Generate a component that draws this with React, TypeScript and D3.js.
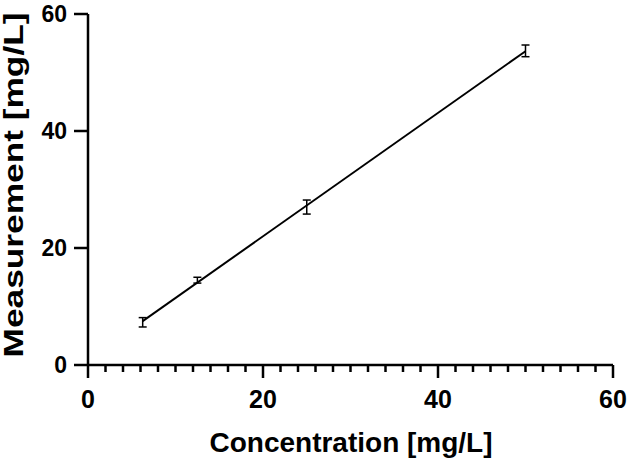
import React, { useEffect, useRef } from 'react';
import * as d3 from 'd3';

// concentrations (mg/L) and measured means with error bar half-widths
const concentrations = [6.25, 12.5, 25, 50];
const measurements = [7.3, 14.5, 27.0, 53.7];
const errors = [0.8, 0.5, 1.2, 1.0];
const xTicks = [0, 20, 40, 60];
const yTicks = [0, 20, 40, 60];

const width = 630;
const height = 461;
const margin = { left: 88, right: 17, top: 14, bottom: 96 };

const drawChart = (node: SVGSVGElement) => {
  const svg = d3.select(node);
  svg.selectAll('*').remove();

  const x = d3.scaleLinear().domain([0, 60]).range([margin.left, width - margin.right]);
  const y = d3.scaleLinear().domain([0, 60]).range([height - margin.bottom, margin.top]);

  const font = 'Arial, "Liberation Sans", sans-serif';

  // x axis with minor ticks every 2
  const minor = d3.range(0, 61, 2).filter(v => v % 20 !== 0);
  const gx = svg.append('g').attr('transform', `translate(0,${y(0)})`);
  gx.append('line')
    .attr('x1', x(0)).attr('x2', x(60))
    .attr('stroke', '#000').attr('stroke-width', 2.5);
  gx.selectAll('.minor').data(minor).enter().append('line')
    .attr('x1', d => x(d)).attr('x2', d => x(d))
    .attr('y1', 0).attr('y2', 7)
    .attr('stroke', '#000').attr('stroke-width', 2.5);
  gx.selectAll('.major').data(xTicks).enter().append('line')
    .attr('x1', d => x(d)).attr('x2', d => x(d))
    .attr('y1', 0).attr('y2', 13)
    .attr('stroke', '#000').attr('stroke-width', 2.5);
  gx.selectAll('text').data(xTicks).enter().append('text')
    .attr('x', d => x(d)).attr('y', 43)
    .attr('text-anchor', 'middle')
    .attr('font-family', font).attr('font-weight', 'bold').attr('font-size', 25)
    .text(d => d);

  // y axis
  const gy = svg.append('g').attr('transform', `translate(${x(0)},0)`);
  gy.append('line')
    .attr('y1', y(0)).attr('y2', y(60))
    .attr('stroke', '#000').attr('stroke-width', 2.5);
  gy.selectAll('.major').data(yTicks).enter().append('line')
    .attr('y1', d => y(d)).attr('y2', d => y(d))
    .attr('x1', -14).attr('x2', 0)
    .attr('stroke', '#000').attr('stroke-width', 2.5);
  gy.selectAll('text').data(yTicks).enter().append('text')
    .attr('x', -21).attr('y', d => y(d) + 8)
    .attr('text-anchor', 'end')
    .attr('font-family', font).attr('font-weight', 'bold').attr('font-size', 23)
    .text(d => d);

  // least squares fit
  const mx = d3.mean(concentrations)!;
  const my = d3.mean(measurements)!;
  const slope = d3.sum(concentrations, (c, i) => (c - mx) * (measurements[i] - my)) /
    d3.sum(concentrations, c => (c - mx) ** 2);
  const intercept = my - slope * mx;
  const [x0, x1] = d3.extent(concentrations) as [number, number];
  svg.append('line')
    .attr('x1', x(x0)).attr('y1', y(slope * x0 + intercept))
    .attr('x2', x(x1)).attr('y2', y(slope * x1 + intercept))
    .attr('stroke', '#000').attr('stroke-width', 2);

  // error bars
  const bars = svg.selectAll('.err').data(concentrations).enter().append('g');
  bars.append('line')
    .attr('x1', d => x(d)).attr('x2', d => x(d))
    .attr('y1', (d, i) => y(measurements[i] - errors[i]))
    .attr('y2', (d, i) => y(measurements[i] + errors[i]))
    .attr('stroke', '#000').attr('stroke-width', 1.5);
  [-1, 1].forEach(s => {
    bars.append('line')
      .attr('x1', d => x(d) - 4).attr('x2', d => x(d) + 4)
      .attr('y1', (d, i) => y(measurements[i] + s * errors[i]))
      .attr('y2', (d, i) => y(measurements[i] + s * errors[i]))
      .attr('stroke', '#000').attr('stroke-width', 1.5);
  });

  // titles
  svg.append('text')
    .attr('x', 351).attr('y', 452)
    .attr('text-anchor', 'middle')
    .attr('font-family', font).attr('font-weight', 'bold').attr('font-size', 28)
    .text('Concentration [mg/L]');
  svg.append('text')
    .attr('transform', 'translate(23,185) rotate(-90)')
    .attr('text-anchor', 'middle')
    .attr('textLength', 345).attr('lengthAdjust', 'spacingAndGlyphs')
    .attr('font-family', font).attr('font-weight', 'bold').attr('font-size', 27)
    .text('Measurement [mg/L]');
};

const App = () => {
  const ref = useRef<SVGSVGElement>(null);
  useEffect(() => {
    if (ref.current) drawChart(ref.current);
  }, []);
  return (
    <svg ref={ref} width={width} height={height}
      style={{ position: 'absolute', left: 0, top: 0, background: '#fff' }} />
  );
};

export default App;
